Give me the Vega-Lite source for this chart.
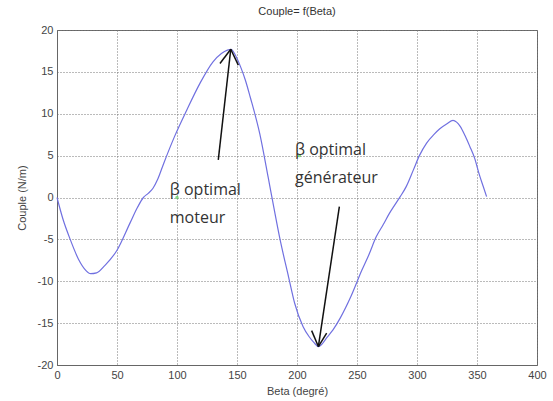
{
  "$schema": "https://vega.github.io/schema/vega-lite/v6.json",
  "width": 480,
  "height": 335,
  "autosize": {"type": "none"},
  "padding": {"left": 57, "top": 30, "right": 16, "bottom": 36},
  "background": "white",
  "title": {"text": "Couple= f(Beta)", "fontSize": 11, "fontWeight": "normal", "font": "Liberation Sans", "color": "#333", "offset": 7},
  "config": {
    "view": {"stroke": "#666", "strokeWidth": 1},
    "axis": {
      "labelFont": "Liberation Sans", "titleFont": "Liberation Sans",
      "labelFontSize": 11, "titleFontSize": 11, "titleFontWeight": "normal",
      "labelColor": "#444", "titleColor": "#444",
      "gridColor": "#777", "gridDash": [1, 2], "gridOpacity": 1, "gridWidth": 1,
      "domainColor": "#666", "tickSize": 0,
      "labelExpr": "replace(datum.label, '\u2212', '-')"
    }
  },
  "layer": [
    {
      "data": {"values": [
        {"beta": 0, "couple": 0}, {"beta": 5, "couple": -2.6}, {"beta": 11, "couple": -5}, {"beta": 18, "couple": -7.4},
        {"beta": 24, "couple": -8.7}, {"beta": 28, "couple": -9.1}, {"beta": 33, "couple": -9.0}, {"beta": 40, "couple": -8.1},
        {"beta": 50, "couple": -6.3}, {"beta": 61, "couple": -3.0}, {"beta": 67, "couple": -1.2}, {"beta": 72, "couple": 0},
        {"beta": 76, "couple": 0.5}, {"beta": 80, "couple": 1.1}, {"beta": 84, "couple": 2.2}, {"beta": 89, "couple": 4.1},
        {"beta": 98, "couple": 7.3}, {"beta": 108, "couple": 10.4}, {"beta": 119, "couple": 13.6}, {"beta": 130, "couple": 16.2},
        {"beta": 137, "couple": 17.2}, {"beta": 142, "couple": 17.6}, {"beta": 145, "couple": 17.7}, {"beta": 149, "couple": 16.9},
        {"beta": 153, "couple": 15.6}, {"beta": 157, "couple": 14.0}, {"beta": 161, "couple": 12.0}, {"beta": 169, "couple": 7.6},
        {"beta": 176, "couple": 2.4}, {"beta": 179, "couple": 0.1}, {"beta": 186, "couple": -5.1}, {"beta": 193, "couple": -9.5},
        {"beta": 198, "couple": -12.6}, {"beta": 205, "couple": -15.4}, {"beta": 210, "couple": -16.6}, {"beta": 214, "couple": -17.3},
        {"beta": 218, "couple": -17.8}, {"beta": 222, "couple": -17.3}, {"beta": 225, "couple": -16.7}, {"beta": 230, "couple": -15.8},
        {"beta": 236, "couple": -14.4}, {"beta": 245, "couple": -11.8}, {"beta": 254, "couple": -8.7}, {"beta": 260, "couple": -6.8},
        {"beta": 266, "couple": -4.7}, {"beta": 272, "couple": -3.2}, {"beta": 277, "couple": -1.9}, {"beta": 281, "couple": -1.0},
        {"beta": 286, "couple": 0.1}, {"beta": 291, "couple": 1.3}, {"beta": 297, "couple": 3.3}, {"beta": 302, "couple": 5.0},
        {"beta": 308, "couple": 6.5}, {"beta": 314, "couple": 7.5}, {"beta": 319, "couple": 8.2}, {"beta": 325, "couple": 8.8},
        {"beta": 330, "couple": 9.2}, {"beta": 333, "couple": 9.0}, {"beta": 336, "couple": 8.5}, {"beta": 340, "couple": 7.4},
        {"beta": 344, "couple": 6.1}, {"beta": 348, "couple": 4.7}, {"beta": 352, "couple": 2.7}, {"beta": 355, "couple": 1.4},
        {"beta": 358, "couple": 0.1}
      ]},
      "mark": {"type": "line", "color": "#7070e0", "strokeWidth": 1.2, "interpolate": "monotone"},
      "encoding": {
        "x": {"field": "beta", "type": "quantitative", "title": "Beta (degré)",
              "scale": {"domain": [0, 400], "nice": false},
              "axis": {"values": [0, 50, 100, 150, 200, 250, 300, 350, 400], "labelPadding": 4, "titlePadding": 5, "labelFlush": false}},
        "y": {"field": "couple", "type": "quantitative", "title": "Couple (N/m)",
              "scale": {"domain": [-20, 20], "nice": false},
              "axis": {"values": [-20, -15, -10, -5, 0, 5, 10, 15, 20], "labelPadding": 4, "titlePadding": 10, "labelFlush": false}}
      }
    },
    {
      "data": {"values": [
        {"x": 100, "y": 0}, {"x": 202, "y": 5}
      ]},
      "mark": {"type": "point", "shape": "circle", "filled": true, "color": "#5c5", "size": 12},
      "encoding": {
        "x": {"field": "x", "type": "quantitative"},
        "y": {"field": "y", "type": "quantitative"}
      }
    },
    {
      "data": {"values": [
        {"x": 134.4, "y": 4.5, "x2": 144.8, "y2": 17.7},
        {"x": 135.8, "y": 16.0, "x2": 144.8, "y2": 17.7},
        {"x": 151.1, "y": 15.8, "x2": 144.8, "y2": 17.7},
        {"x": 235.3, "y": -1.1, "x2": 217.8, "y2": -17.8},
        {"x": 212.2, "y": -15.9, "x2": 217.8, "y2": -17.8},
        {"x": 224.7, "y": -16.2, "x2": 217.8, "y2": -17.8}
      ]},
      "mark": {"type": "rule", "color": "#111", "strokeWidth": 1.5},
      "encoding": {
        "x": {"field": "x", "type": "quantitative"},
        "y": {"field": "y", "type": "quantitative"},
        "x2": {"field": "x2"},
        "y2": {"field": "y2"}
      }
    },
    {
      "data": {"values": [
        {"x": 94, "y": 0.3, "label": "β optimal"},
        {"x": 94, "y": -3.0, "label": "moteur"},
        {"x": 198.3, "y": 5.1, "label": "β optimal"},
        {"x": 198.3, "y": 1.7, "label": "générateur"}
      ]},
      "mark": {"type": "text", "align": "left", "baseline": "alphabetic", "font": "Open Sans", "fontSize": 16, "color": "#333"},
      "encoding": {
        "x": {"field": "x", "type": "quantitative"},
        "y": {"field": "y", "type": "quantitative"},
        "text": {"field": "label"}
      }
    }
  ]
}
